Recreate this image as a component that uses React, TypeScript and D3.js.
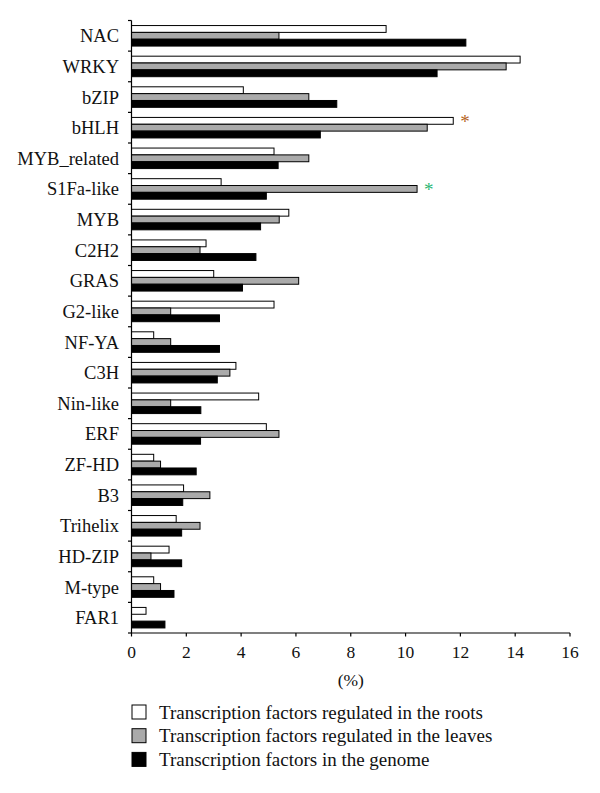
import React from "react";
import * as d3 from "d3";

const categories = ["NAC","WRKY","bZIP","bHLH","MYB_related","S1Fa-like","MYB","C2H2","GRAS","G2-like","NF-YA","C3H","Nin-like","ERF","ZF-HD","B3","Trihelix","HD-ZIP","M-type","FAR1"];
const roots = [9.29,14.18,4.08,11.74,5.2,3.27,5.74,2.72,3.0,5.2,0.81,3.81,4.64,4.92,0.81,1.9,1.63,1.37,0.81,0.53];
const leaves = [5.38,13.67,6.47,10.79,6.47,10.42,5.39,2.5,6.1,1.43,1.43,3.59,1.43,5.38,1.06,2.86,2.5,0.71,1.06,0];
const genome = [12.2,11.15,7.49,6.89,5.35,4.92,4.71,4.54,4.05,3.21,3.21,3.13,2.53,2.52,2.36,1.87,1.83,1.83,1.55,1.22];
const seriesNames = ["Transcription factors regulated in the roots","Transcription factors regulated in the leaves","Transcription factors in the genome"];
const seriesFills = ["#ffffff","#aaaaaa","#000000"];
const xTicks = [0,2,4,6,8,10,12,14,16];
const stars = [{cat:"bHLH", series:0, color:"#b5651d"},{cat:"S1Fa-like", series:1, color:"#2bb673"}];

export default function App() {
  const W = 600, H = 793;
  const x0 = 131.5, x1 = 570, yTop = 20.5, yBot = 633;
  const x = d3.scaleLinear().domain([0,16]).range([x0,x1]);
  const y = d3.scaleBand<string>().domain(categories).range([yTop,yBot]).paddingInner(0.33).paddingOuter(0.165);
  const keys = [0,1,2].map(String);
  const ys = d3.scaleBand<string>().domain(keys).range([0,y.bandwidth()]);
  const data = [roots, leaves, genome];
  const step = (yBot - yTop) / categories.length;
  const font = "'Liberation Serif', 'Times New Roman', serif";
  return (
    <svg width={W} height={H} style={{position:"absolute",left:0,top:0,background:"#fff"}} fontFamily={font}>
      {categories.map((c,i) => (
        <g key={c}>
          {data.map((arr,s) => arr[i] > 0 ? (
            <rect key={s} x={x(0)} y={(y(c) as number) + (ys(String(s)) as number)} width={x(arr[i]) - x(0)} height={ys.bandwidth()}
              fill={seriesFills[s]} stroke="#000" strokeWidth={1} />
          ) : null)}
          <text x={119} y={(y(c) as number) + y.bandwidth()/2} dy="0.35em" textAnchor="end" fontSize={18.5} fill="#111">{c}</text>
        </g>
      ))}
      {stars.map((st,k) => {
        const i = categories.indexOf(st.cat);
        const v = data[st.series][i];
        return <text key={k} x={x(v)+7} y={(y(st.cat) as number) + (ys(String(st.series)) as number) + ys.bandwidth()/2 + 7} fontSize={19} fill={st.color}>*</text>;
      })}
      <line x1={x0} x2={x0} y1={yTop} y2={yBot} stroke="#000" strokeWidth={1.2} />
      {d3.range(categories.length+1).map(i => (
        <line key={i} x1={x0-3.5} x2={x0} y1={yTop + i*step} y2={yTop + i*step} stroke="#000" strokeWidth={1.2} />
      ))}
      <line x1={x0} x2={x1} y1={yBot} y2={yBot} stroke="#000" strokeWidth={1.2} />
      {xTicks.map(t => (
        <g key={t}>
          <line x1={x(t)} x2={x(t)} y1={yBot} y2={yBot+3.5} stroke="#000" strokeWidth={1.2} />
          <text x={x(t)} y={yBot+19} dy="0.35em" textAnchor="middle" fontSize={17.5} fill="#111">{t}</text>
        </g>
      ))}
      <text x={(x0+x1)/2} y={680} dy="0.35em" textAnchor="middle" fontSize={17.5} fill="#111">(%)</text>
      {seriesNames.map((n,s) => (
        <g key={n}>
          <rect x={132} y={705 + s*23.7} width={14} height={14} fill={seriesFills[s]} stroke="#000" strokeWidth={1} />
          <text x={159} y={712 + s*23.7} dy="0.35em" fontSize={19} fill="#111">{n}</text>
        </g>
      ))}
    </svg>
  );
}
